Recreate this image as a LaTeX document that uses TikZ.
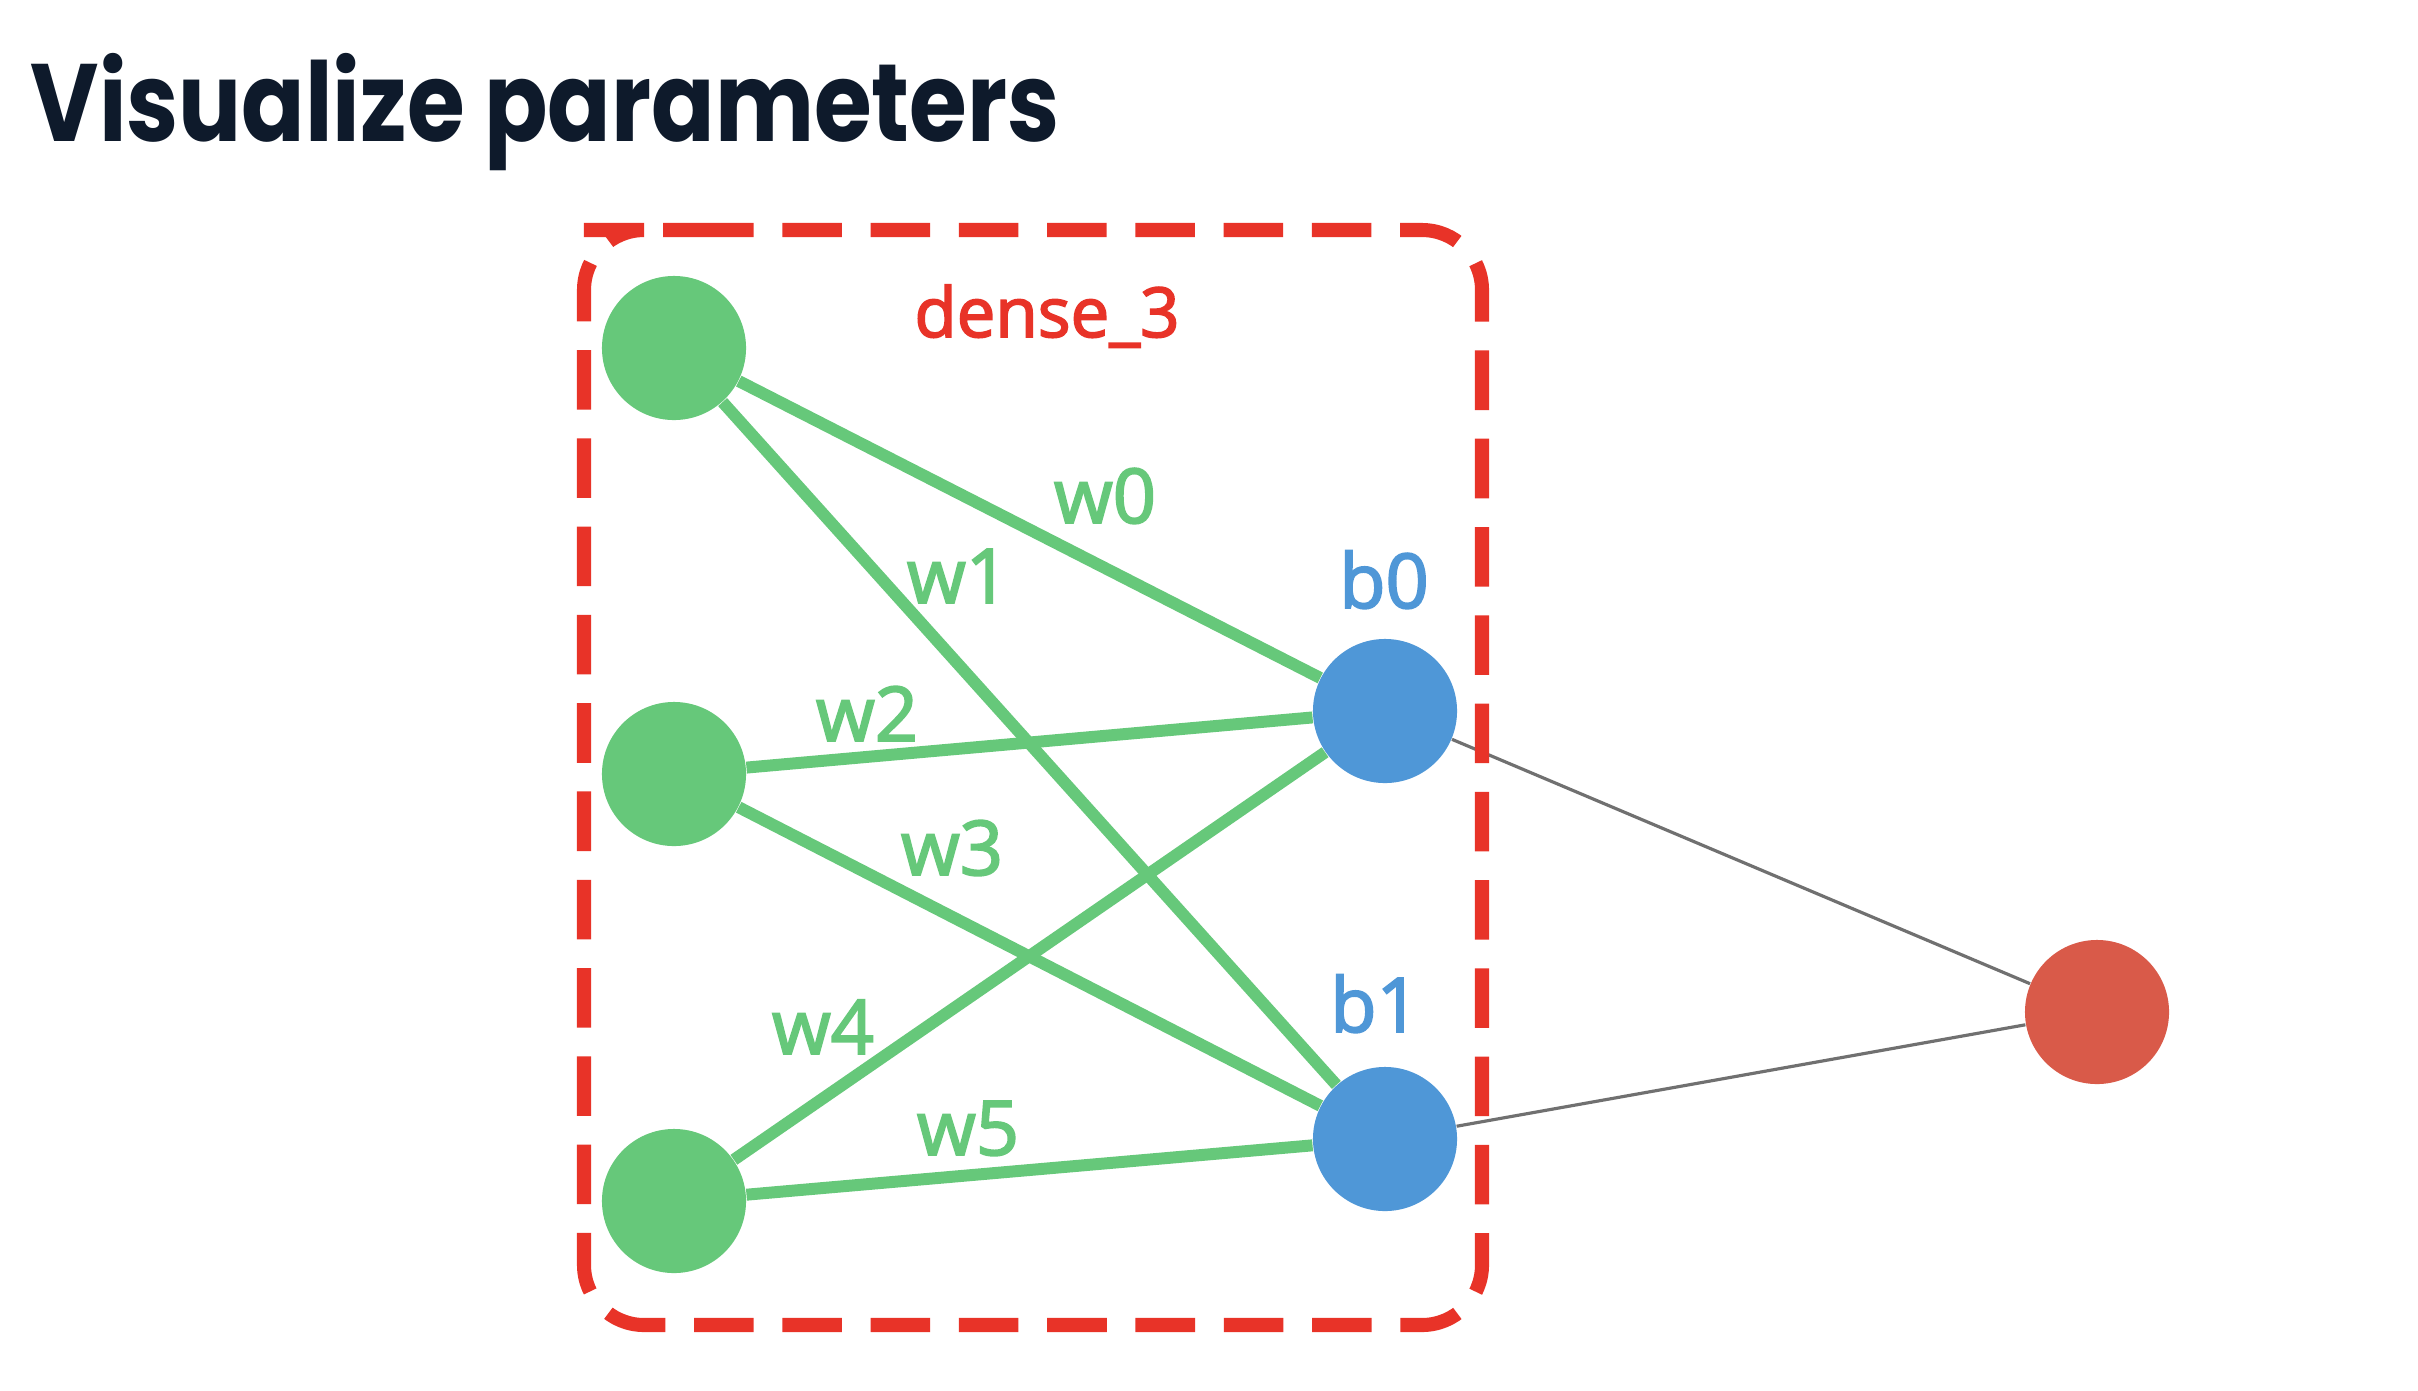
\documentclass[tikz,border=0pt]{standalone}
\usepackage{graphicx}
\usepackage{fontspec}
\setmainfont{Open Sans}
\newfontfamily\labfont{Open Sans}[FakeBold=2.5]
\newfontfamily\titlefont{Poppins}
\definecolor{ngreen}{HTML}{66C87A}
\definecolor{nblue}{HTML}{4F97D7}
\definecolor{nred}{HTML}{D95A49}
\definecolor{boxred}{HTML}{E83328}
\definecolor{ngray}{HTML}{707070}
\definecolor{titlecol}{HTML}{0E1A2B}
\begin{document}
\begin{tikzpicture}[x=0.01cm,y=-0.01cm,
  neuron/.style={circle, minimum size=1.44cm, inner sep=0pt, draw=none},
  innode/.style={neuron, fill=ngreen},
  hidnode/.style={neuron, fill=nblue},
  outnode/.style={neuron, fill=nred},
  wline/.style={draw=ngreen, line width=3.4pt},
  gline/.style={draw=ngray, line width=0.9pt},
  wlab/.style={text=ngreen, font=\labfont\fontsize{21.5}{24}\selectfont, anchor=base, inner sep=0pt},
  blab/.style={text=nblue, font=\labfont\fontsize{21.5}{24}\selectfont, anchor=base, inner sep=0pt},
  dashbox/.style={draw=boxred, line width=4pt, dash pattern=on 16.93pt off 8.17pt, dash phase=2.85pt, rounded corners=0.6cm}
]
\useasboundingbox (0,0) rectangle (2418,1390);
\fill[white] (0,0) rectangle (2418,1390);

\node[anchor=base west, inner sep=0pt, text=titlecol, font=\titlefont\bfseries\fontsize{31.3}{36}\selectfont] (title) at (30,141) {\scalebox{0.85}[1]{Visualize parameters}};

\node[innode] (i1) at (674,348) {};
\node[innode] (i2) at (674,774) {};
\node[innode] (i3) at (674,1201) {};
\node[hidnode] (h0) at (1385,711) {};
\node[hidnode] (h1) at (1385,1139) {};
\node[outnode] (o) at (2097,1012) {};

\draw[wline] (i1) -- (h0);
\draw[wline] (i1) -- (h1);
\draw[wline] (i2) -- (h0);
\draw[wline] (i2) -- (h1);
\draw[wline] (i3) -- (h0);
\draw[wline] (i3) -- (h1);
\draw[gline] (h0) -- (o);
\draw[gline] (h1) -- (o);

\draw[dashbox] (644,230) -- (1482,230) -- (1482,1325) -- (584,1325) -- (584,230) -- cycle;

\node[anchor=base, inner sep=0pt, text=boxred, font=\labfont\fontsize{19.6}{22}\selectfont] (dlab) at (1047,337) {dense\_3};
\node[wlab] (lw0) at (1105,523) {w0};
\node[wlab] (lw1) at (958,603) {w1};
\node[wlab] (lw2) at (867,741) {w2};
\node[wlab] (lw3) at (952,875) {w3};
\node[wlab] (lw4) at (823,1054) {w4};
\node[wlab] (lw5) at (968,1155) {w5};
\node[blab] (lb0) at (1384,608) {b0};
\node[blab] (lb1) at (1375,1032) {b1};
\end{tikzpicture}
\end{document}
